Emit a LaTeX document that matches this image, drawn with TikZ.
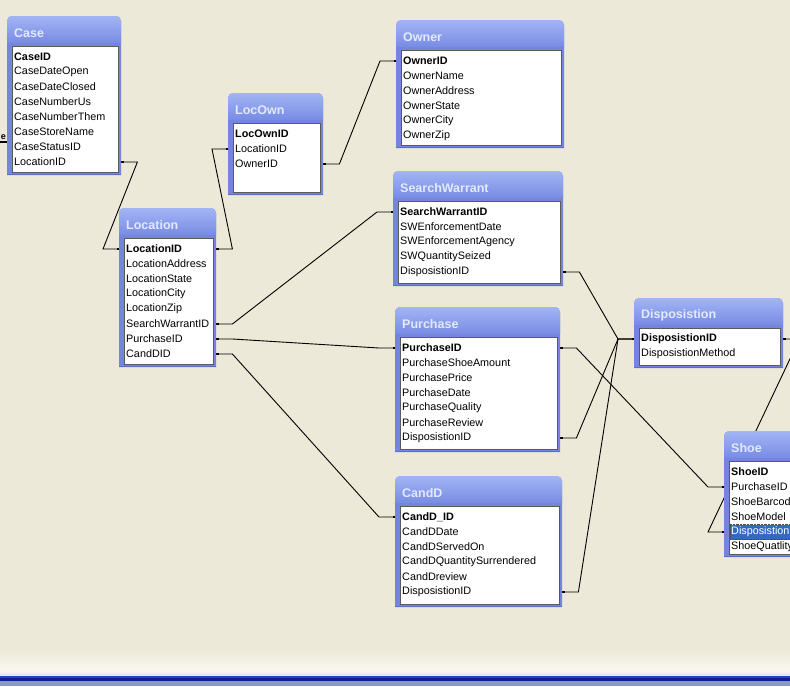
\documentclass[tikz,border=0pt]{standalone}
\usepackage{fontspec}
\setmainfont{Liberation Sans}
\usetikzlibrary{arrows.meta}

\definecolor{deskbg}{HTML}{ECE9D8}
\definecolor{deskfade}{HTML}{F9F9F2}
\definecolor{winframe}{HTML}{7484DF}
\definecolor{wintop}{HTML}{A3B5F5}
\definecolor{winbot}{HTML}{788BE4}
\definecolor{winedge}{HTML}{5D6DCC}
\definecolor{wintitle}{HTML}{E2EAFF}
\definecolor{fieldedge}{HTML}{5A5A5A}
\definecolor{selblue}{HTML}{316AC5}
\definecolor{barlight}{HTML}{E2ECF4}
\definecolor{barblue}{HTML}{2448B8}
\definecolor{bardark}{HTML}{0C2290}
\definecolor{bargrey}{HTML}{8A9AC4}

\pgfdeclarelayer{bg}
\pgfdeclarelayer{lines}
\pgfsetlayers{bg,lines,main}

% table window: [selected row]{id}{left}{top}{width}{height}{title}{fields}
\newcommand{\dbtable}[8][0]{%
  \pgfmathsetmacro\tblR{#3+#5}
  \pgfmathsetmacro\tblB{#4+#6}
  \pgfmathsetmacro\tw{#5-14}
  \fill[winframe] (#3,\tblB) [rounded corners=5pt] -- (#3,#4) -- (\tblR,#4) [sharp corners] -- (\tblR,\tblB) -- cycle;
  \shade[top color=wintop, bottom color=winbot] (#3,#4+27) [rounded corners=5pt] -- (#3,#4) -- (\tblR,#4) [sharp corners] -- (\tblR,#4+27) -- cycle;
  \draw[winedge, line width=1.5pt] (#3,\tblB-0.75) -- (\tblR,\tblB-0.75);
  \node[tbltitle] (#2-title) at (#3+7,#4+17) {#7};
  \filldraw[fill=white, draw=fieldedge, line width=0.6pt] (#3+5,#4+30) rectangle (\tblR-3,\tblB-3);
  \foreach \fld [count=\i] in {#8} {
    \ifnum\i=#1
      \fill[selblue, draw=black!70, densely dotted] (#3+6,#4+18.5+15*\i) rectangle (\tblR-4,#4+33.5+15*\i);
    \fi
    \node[tblrow, text width=\tw pt] (#2-\i) at (#3,#4+26+15*\i)
      {\ifnum\i=1\bfseries\fi\ifnum\i=#1\color{white}\fi\fld};
  }
}

\begin{document}
\begin{tikzpicture}[x=1pt,y=-1pt,
    tbltitle/.style={anchor=west, inner sep=0pt, text=wintitle, font=\bfseries\fontsize{12.5}{14}\selectfont},
    tblrow/.style={anchor=west, inner xsep=7pt, inner ysep=0pt, minimum height=15pt, align=left, font=\fontsize{10.8}{13}\selectfont},
    rel/.style={draw, line width=0.9pt, {Square[length=2.4pt,width=2.4pt]}-{Square[length=2.4pt,width=2.4pt]},
      to path={-- ([xshift=16pt]\tikztostart) -- ([xshift=-16pt]\tikztotarget) -- (\tikztotarget)}}]
\useasboundingbox (0,0) rectangle (790,686);
\clip (0,0) rectangle (790,686);

\begin{pgfonlayer}{bg}
  \fill[deskbg] (0,0) rectangle (790,650);
  \shade[top color=deskbg, bottom color=deskfade] (0,648) rectangle (790,673);
  \fill[barlight] (0,673) rectangle (790,676);
  \fill[barblue] (0,676) rectangle (790,678);
  \fill[bardark] (0,678) rectangle (790,681);
  \fill[bargrey] (0,681) rectangle (790,686);
\end{pgfonlayer}

\dbtable{case}{7}{16}{114}{159}{Case}{CaseID,CaseDateOpen,CaseDateClosed,CaseNumberUs,CaseNumberThem,CaseStoreName,CaseStatusID,LocationID}
\dbtable{locown}{228}{93}{95}{102}{LocOwn}{LocOwnID,LocationID,OwnerID}
\dbtable{owner}{396}{20}{168}{128}{Owner}{OwnerID,OwnerName,OwnerAddress,OwnerState,OwnerCity,OwnerZip}
\dbtable{location}{119}{208}{97}{159}{Location}{LocationID,LocationAddress,LocationState,LocationCity,LocationZip,SearchWarrantID,PurchaseID,CandDID}
\dbtable{sw}{393}{171}{170}{115}{SearchWarrant}{SearchWarrantID,SWEnforcementDate,SWEnforcementAgency,SWQuantitySeized,DisposistionID}
\dbtable{purchase}{395}{307}{165}{145}{Purchase}{PurchaseID,PurchaseShoeAmount,PurchasePrice,PurchaseDate,PurchaseQuality,PurchaseReview,DisposistionID}
\dbtable{candd}{395}{476}{167}{131}{CandD}{CandD\_ID,CandDDate,CandDServedOn,CandDQuantitySurrendered,CandDreview,DisposistionID}
\dbtable{disp}{634}{298}{149}{70}{Disposistion}{DisposistionID,DisposistionMethod}
\dbtable[5]{shoe}{724}{431}{110}{126}{Shoe}{ShoeID,PurchaseID,ShoeBarcode,ShoeModel,DisposistionID,ShoeQuatlity}

% off-screen table at the left edge
\node[inner sep=0pt, anchor=east, font=\bfseries\fontsize{9}{9}\selectfont] (offtext) at (6,137) {e};
\coordinate (offcase) at (0,142);

\begin{pgfonlayer}{lines}
  \draw[line width=1.8pt] (offcase) -- (offcase -| case-7.west);
  \path[rel] (case-8.east) to (location-1.west);
  \path[rel] (location-1.east) to (locown-2.west);
  \path[rel] (locown-3.east) to (owner-1.west);
  \path[rel] (location-6.east) to (sw-1.west);
  \path[rel] (location-7.east) to (purchase-1.west);
  \path[rel] (location-8.east) to (candd-1.west);
  \path[rel] (sw-5.east) to (disp-1.west);
  \path[rel] (purchase-7.east) to (disp-1.west);
  \path[rel] (candd-6.east) to (disp-1.west);
  \path[rel] (purchase-1.east) to (shoe-2.west);
  \path[rel] (disp-1.east) to (shoe-5.west);
\end{pgfonlayer}
\end{tikzpicture}
\end{document}
